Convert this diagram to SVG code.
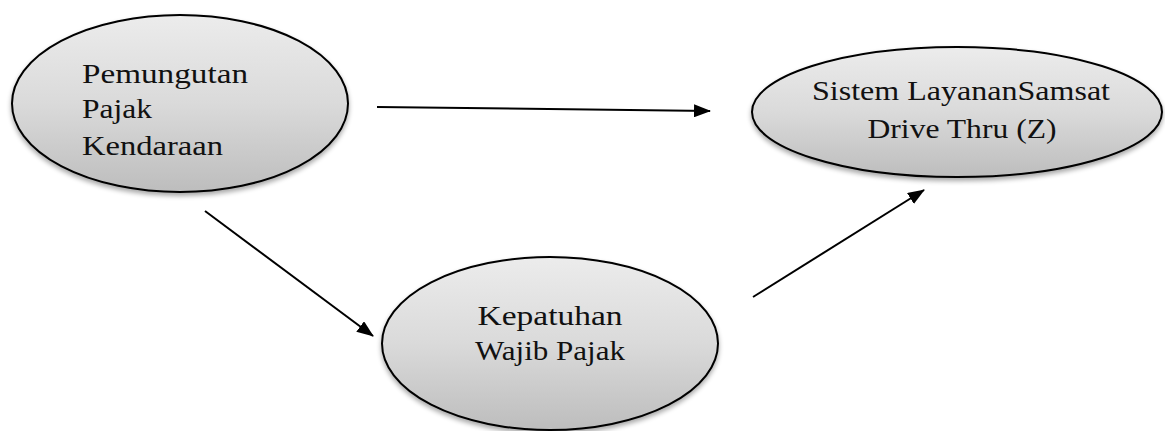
<svg xmlns="http://www.w3.org/2000/svg" width="1165" height="431" viewBox="0 0 1165 431">
<defs>
<linearGradient id="g" x1="0" y1="0" x2="0" y2="1">
<stop offset="0" stop-color="#ececec"/>
<stop offset="0.5" stop-color="#dadada"/>
<stop offset="1" stop-color="#bdbdbd"/>
</linearGradient>
<filter id="sh" x="-10%" y="-10%" width="120%" height="130%">
<feGaussianBlur in="SourceAlpha" stdDeviation="2.5"/>
<feOffset dx="0" dy="3" result="b"/>
<feComponentTransfer><feFuncA type="linear" slope="0.35"/></feComponentTransfer>
<feMerge><feMergeNode/><feMergeNode in="SourceGraphic"/></feMerge>
</filter>
<marker id="ah2" markerWidth="17" markerHeight="13" refX="16" refY="6.500" orient="auto" markerUnits="userSpaceOnUse" viewBox="0 0 17 13">
<path d="M0,0 L17,6.500 L0,13 Z" fill="#000"/>
</marker>
</defs>
<style>
.node ellipse{fill:url(#g);stroke:#000;stroke-width:2;filter:url(#sh)}
.node text{font-family:"Liberation Serif","DejaVu Serif",serif;font-size:27px;fill:#111}
.c line{stroke:#000;stroke-width:2;marker-end:url(#ah2)}
</style>
<rect width="1165" height="431" fill="#fff"/>
<g id="n1" class="node">
<ellipse cx="180" cy="103.500" rx="168" ry="88.500"/>
<text x="82" y="83" textLength="166" lengthAdjust="spacingAndGlyphs">Pemungutan</text>
<text x="82" y="118" textLength="70" lengthAdjust="spacingAndGlyphs">Pajak</text>
<text x="82" y="155" textLength="141" lengthAdjust="spacingAndGlyphs">Kendaraan</text>
</g>
<g id="n2" class="node">
<ellipse cx="957" cy="112" rx="205" ry="65"/>
<text x="961" y="100" text-anchor="middle" textLength="298" lengthAdjust="spacingAndGlyphs">Sistem LayananSamsat</text>
<text x="962" y="138" text-anchor="middle" textLength="189" lengthAdjust="spacingAndGlyphs">Drive Thru (Z)</text>
</g>
<g id="n3" class="node">
<ellipse cx="550" cy="343.500" rx="168" ry="86.500"/>
<text x="550" y="325" text-anchor="middle" textLength="145" lengthAdjust="spacingAndGlyphs">Kepatuhan</text>
<text x="550" y="360" text-anchor="middle" textLength="150" lengthAdjust="spacingAndGlyphs">Wajib Pajak</text>
</g>
<g id="connectors" class="c">
<line x1="377" y1="107" x2="710" y2="111"/>
<line x1="205" y1="211" x2="373" y2="336"/>
<line x1="753" y1="297" x2="924" y2="190"/>
</g>
</svg>
